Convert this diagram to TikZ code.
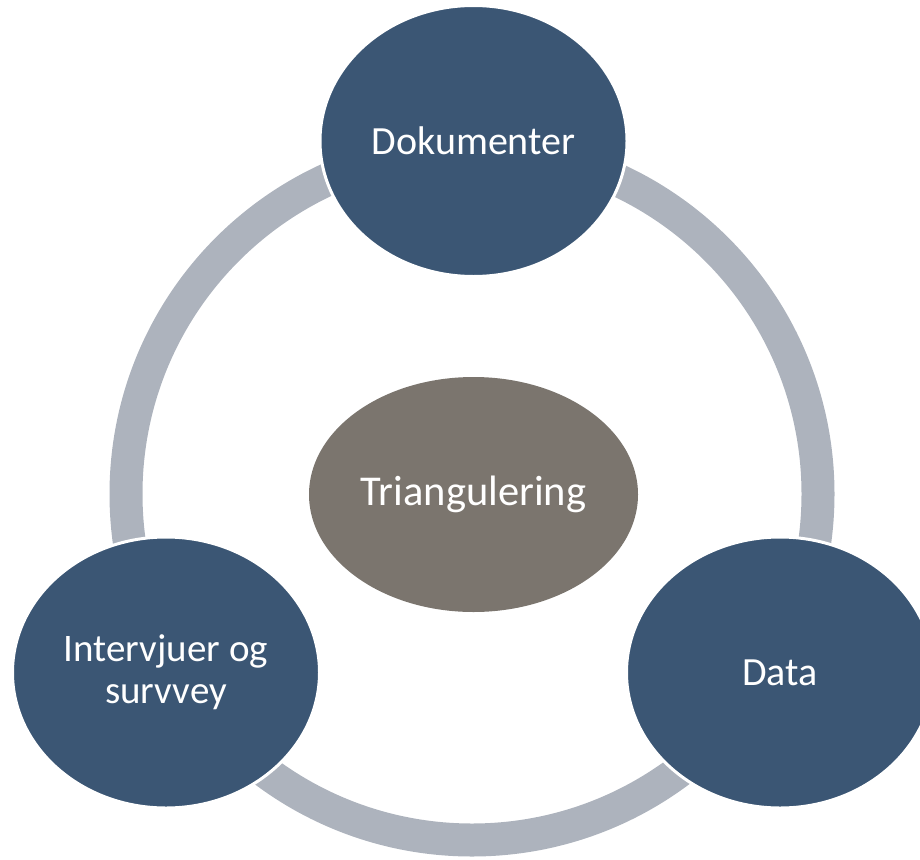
\documentclass[tikz,border=0pt]{standalone}
\usepackage{fontspec}
\setmainfont{Carlito}
\usetikzlibrary{shapes.geometric}
\definecolor{ringgrey}{HTML}{ADB3BD}
\definecolor{darkblue}{HTML}{3B5674}
\definecolor{taupe}{HTML}{7B756E}
\tikzset{
  outer/.style={ellipse, fill=darkblue, draw=white, line width=3pt, inner sep=0pt,
    minimum width=307pt, minimum height=271pt, text=white, align=center,
    font=\fontsize{40pt}{43pt}\selectfont},
  inner/.style={ellipse, fill=taupe, inner sep=0pt, minimum width=329pt,
    minimum height=235pt, text=white, font=\fontsize{42.5pt}{46pt}\selectfont},
}
\begin{document}
\begin{tikzpicture}[x=1pt,y=-1pt]
\useasboundingbox (0,0) rectangle (920,859);
\clip (0,0) rectangle (920,859);
\coordinate (c) at (472,494);
\draw[ringgrey, line width=33pt] (c) circle[radius=346pt];
\node[inner] (tri) at (473.5,494.5) {Triangulering};
\node[outer] (dok) at (473.5,141) {Dokumenter};
\node[outer, font=\fontsize{39pt}{42pt}\selectfont] (int) at (166,672.5) {Intervjuer og\\survvey};
\node[outer] (dat) at (780,672.5) {Data};
\end{tikzpicture}
\end{document}
